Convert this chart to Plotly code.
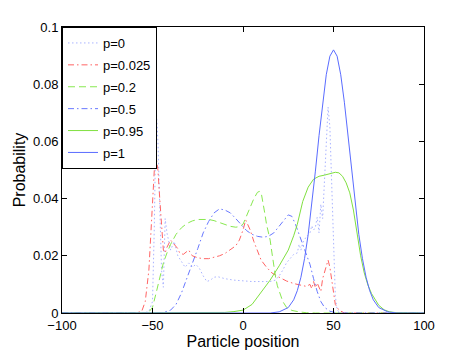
import plotly.graph_objects as go

# particle position / probability
x_p0 = [-100, -55, -52, -50, -49, -48, -47, -46, -45, -44, -43, -42, -40, -38, -36, -34, -32, -30,
        -28, -26, -24, -22, -20, -18, -16, -14, -10, -5, 0, 5, 10, 15, 18, 20, 22, 24, 26, 28,
        30, 31, 32, 33, 35, 37, 38, 39, 40, 41, 42, 43, 44, 45, 46, 47, 48, 49, 50, 51, 52, 54, 100]
y_p0 = [0, 0, 0.0005, 0.004, 0.03, 0.072, 0.06, 0.035, 0.015, 0.009, 0.033, 0.028, 0.022, 0.025,
        0.02, 0.018, 0.016, 0.0175, 0.016, 0.017, 0.0155, 0.013, 0.011, 0.0115, 0.0125, 0.0127,
        0.012, 0.0115, 0.0112, 0.011, 0.011, 0.011, 0.0115, 0.013, 0.015, 0.0175, 0.019, 0.0205,
        0.021, 0.024, 0.022, 0.0245, 0.0267, 0.028, 0.0305, 0.029, 0.030, 0.0335, 0.028, 0.038,
        0.033, 0.048, 0.062, 0.072, 0.065, 0.045, 0.02, 0.006, 0.001, 0, 0]

x_p0025 = [-100, -60, -56, -54, -52, -50, -49, -48, -47, -46, -45, -44, -43, -42, -40, -38, -36,
           -35, -33, -31, -30, -28, -25, -22, -19, -16, -13, -10, -7, -4, -2, 0, 1.5, 4, 6, 8, 10,
           13, 16, 20, 24, 28, 32, 35, 37, 38, 39, 40, 41, 42, 43, 44, 46, 47, 48, 49, 50, 51,
           53, 56, 100]
y_p0025 = [0, 0, 0.0005, 0.004, 0.015, 0.040, 0.050, 0.0545, 0.050, 0.040, 0.029, 0.022, 0.021,
           0.023, 0.0255, 0.024, 0.0225, 0.021, 0.0205, 0.0215, 0.022, 0.020, 0.0193, 0.019,
           0.019, 0.0195, 0.020, 0.0208, 0.022, 0.0235, 0.0255, 0.029, 0.0325, 0.029, 0.025,
           0.0215, 0.0185, 0.016, 0.014, 0.0125, 0.0112, 0.0103, 0.0097, 0.0093, 0.010, 0.0085,
           0.011, 0.0088, 0.0105, 0.009, 0.0075, 0.012, 0.017, 0.0185, 0.016, 0.011, 0.006,
           0.003, 0.001, 0, 0]

x_p02 = [-100, -55, -52, -50, -48, -46, -44, -42, -40, -37, -34, -31, -28, -25, -22, -19, -16,
         -13, -10, -7, -4, -2, 0, 2, 4, 6, 8, 9, 10, 11, 12, 13, 14, 15, 16, 17, 18, 19, 20, 22,
         24, 27, 31, 35, 40, 100]
y_p02 = [0, 0, 0.0003, 0.002, 0.007, 0.0125, 0.0175, 0.021, 0.024, 0.0275, 0.0298, 0.0313,
         0.0322, 0.0327, 0.0328, 0.0327, 0.0323, 0.0317, 0.031, 0.0303, 0.030, 0.0302, 0.031,
         0.034, 0.037, 0.040, 0.0422, 0.0425, 0.0422, 0.039, 0.035, 0.031, 0.028, 0.0255, 0.021,
         0.0165, 0.0125, 0.0095, 0.0075, 0.004, 0.002, 0.0009, 0.0004, 0.0001, 0, 0]

x_p05 = [-100, -45, -40, -37, -34, -31, -28, -25, -22, -19, -16, -13, -10, -7, -4, -1, 2, 5, 8,
         11, 14, 17, 20, 23, 25, 27, 29, 31, 33, 35, 37, 39, 41, 43, 45, 48, 52, 100]
y_p05 = [0, 0, 0.001, 0.003, 0.007, 0.012, 0.017, 0.0225, 0.028, 0.032, 0.035, 0.0364, 0.036,
         0.035, 0.033, 0.0308, 0.0288, 0.0275, 0.0268, 0.0265, 0.0268, 0.028, 0.0303, 0.033,
         0.0343, 0.0338, 0.031, 0.0275, 0.024, 0.021, 0.017, 0.012, 0.0075, 0.004, 0.002,
         0.0006, 0, 0]

x_p095 = [-100, -20, -10, -5, 0, 5, 10, 15, 20, 25, 28, 30, 33, 36, 39, 42, 45, 48, 51, 53, 55,
          57, 59, 61, 63, 65, 67, 69, 71, 73, 75, 78, 81, 85, 90, 100]
y_p095 = [0, 0, 0.0002, 0.0005, 0.001, 0.003, 0.0072, 0.0115, 0.0165, 0.022, 0.027, 0.031,
          0.039, 0.044, 0.0468, 0.0478, 0.0482, 0.0487, 0.0492, 0.049, 0.0478, 0.0455, 0.042,
          0.036, 0.028, 0.020, 0.014, 0.0098, 0.0068, 0.0045, 0.0027, 0.0011, 0.0004, 0.0001,
          0, 0]

x_p1 = [-100, 15, 20, 25, 28, 30, 32, 34, 36, 38, 40, 42, 44, 46, 48, 50, 52, 54, 56, 58, 60,
        62, 64, 66, 68, 70, 72, 75, 80, 85, 100]
y_p1 = [0, 0, 0.0004, 0.0019, 0.0046, 0.0078, 0.0125, 0.019, 0.0274, 0.0378, 0.0496, 0.062,
        0.0737, 0.0833, 0.0898, 0.092, 0.0898, 0.0833, 0.0737, 0.062, 0.0496, 0.0378, 0.0274,
        0.019, 0.0125, 0.0078, 0.0046, 0.0019, 0.0004, 0, 0]

series = [
    ('p=0', x_p0, y_p0, '#aab4ff', '1.5px,2.5px'),
    ('p=0.025', x_p0025, y_p0025, '#ff6464', '6px,3px,1.5px,3px'),
    ('p=0.2', x_p02, y_p02, '#88e850', '7px,4px'),
    ('p=0.5', x_p05, y_p05, '#6878ff', '6px,3px,1.5px,3px'),
    ('p=0.95', x_p095, y_p095, '#80e040', 'solid'),
    ('p=1', x_p1, y_p1, '#5a6cff', 'solid'),
]

fig = go.Figure()
for name, xs, ys, color, dash in series:
    fig.add_trace(go.Scatter(x=xs, y=ys, mode='lines', name=name, legendgroup=name,
                             line=dict(color=color, width=1, dash=dash)))

axis_style = dict(showline=True, linecolor='black', linewidth=1, mirror='ticks',
                  ticks='inside', ticklen=5, tickcolor='black', showgrid=False,
                  zeroline=False, automargin=False, tickfont=dict(size=13, color='black'))

# the page body adds an 8px offset, so the figure is 8px smaller than the window
fig.update_layout(
    width=461, height=344,
    margin=dict(l=54, r=45, t=19, b=39),
    paper_bgcolor='white', plot_bgcolor='white',
    font=dict(family='Liberation Sans, Arial, sans-serif', size=13, color='black'),
    xaxis=dict(range=[-100, 100], tickvals=[-100, -50, 0, 50, 100],
               ticktext=['\u2212100', '\u221250', '0', '50', '100'],
               title=dict(text='Particle position', standoff=0), **axis_style),
    yaxis=dict(range=[0, 0.1], tickvals=[0, 0.02, 0.04, 0.06, 0.08, 0.1],
               ticktext=['0', '0.02', '0.04', '0.06', '0.08', '0.1'],
               title=dict(text='Probability', standoff=3), **axis_style),
    legend=dict(x=0, y=1, xanchor='left', yanchor='top', bgcolor='white',
                bordercolor='black', borderwidth=1, tracegroupgap=2,
                font=dict(size=13), itemwidth=30),
    showlegend=True,
)

fig.write_html("out.html")
